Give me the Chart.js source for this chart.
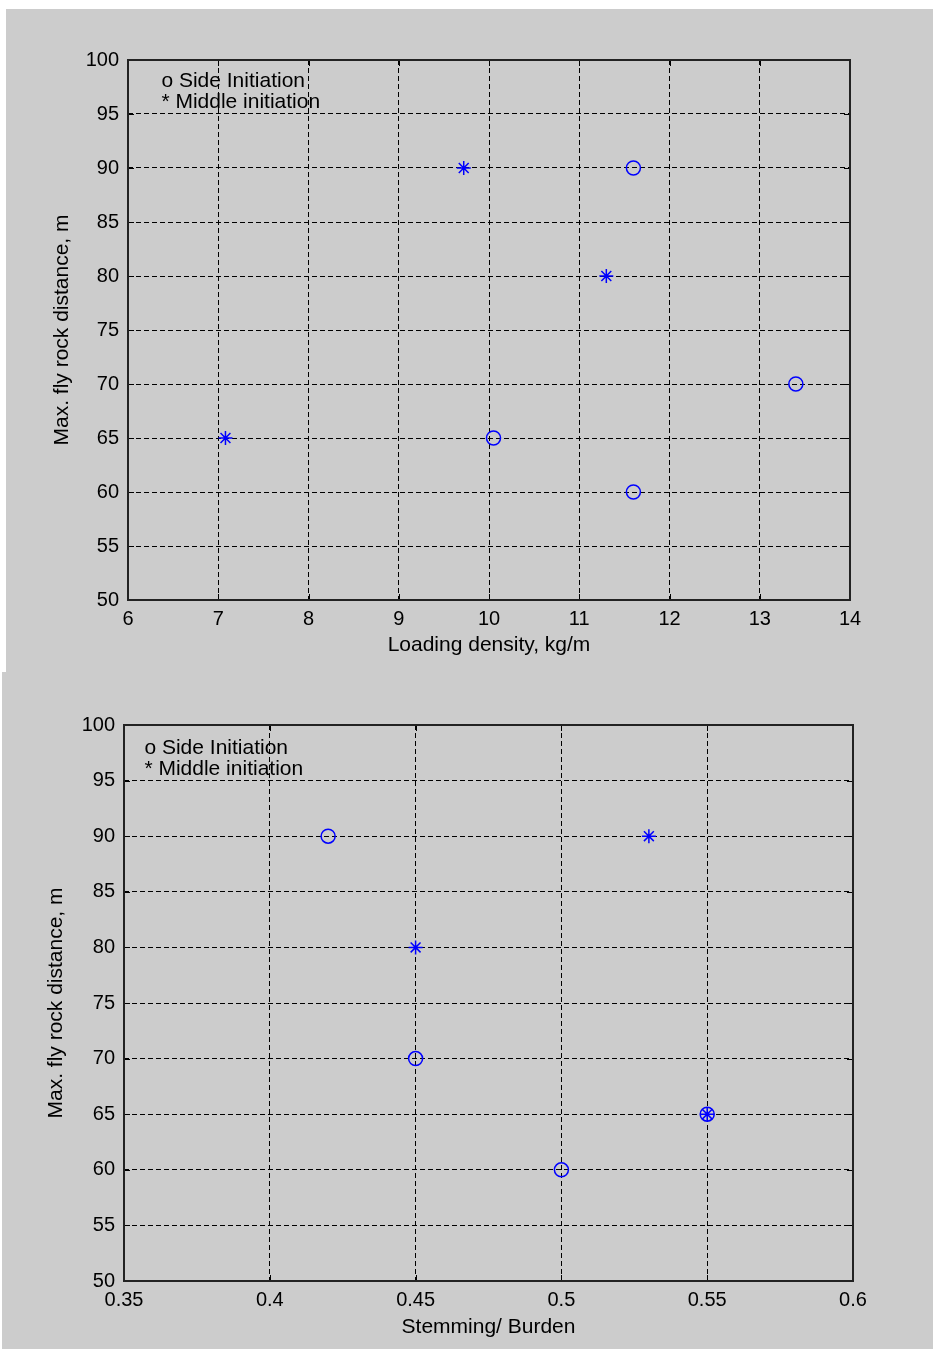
<!DOCTYPE html>
<html>
<head>
<meta charset="utf-8">
<script src="https://cdn.jsdelivr.net/npm/chart.js@4.4.1/dist/chart.umd.min.js"></script>
<style>
  html, body { margin: 0; padding: 0; background: #ffffff; }
  body { width: 933px; height: 1349px; position: relative; overflow: hidden; }
  .panel { position: absolute; background: #cccccc; }
  #p1 { left: 6px; top: 9px; width: 927px; height: 663px; }
  #p2 { left: 2px; top: 672px; width: 931px; height: 677px; }
</style>
</head>
<body>
<div class="panel" id="p1"><canvas id="densityChart" width="927" height="663"></canvas></div>
<div class="panel" id="p2"><canvas id="stemmingChart" width="931" height="677"></canvas></div>
<script>
// chart 1 - loading density
var densitySideX = [11.6, 13.4, 10.05, 11.6];
var densitySideY = [90, 70, 65, 60];
var densityMiddleX = [9.72, 11.3, 7.08];
var densityMiddleY = [90, 80, 65];
var densityTicksX = [6, 7, 8, 9, 10, 11, 12, 13, 14];

// chart 2 - stemming / burden
var stemSideX = [0.42, 0.45, 0.5, 0.55];
var stemSideY = [90, 70, 60, 65];
var stemMiddleX = [0.53, 0.45, 0.55];
var stemMiddleY = [90, 80, 65];
var stemTicksX = [0.35, 0.4, 0.45, 0.5, 0.55, 0.6];

var flyTicksY = [50, 55, 60, 65, 70, 75, 80, 85, 90, 95, 100];
var noteLines = ['o Side Initiation', '* Middle initiation'];

var tickFont = { family: "'Liberation Sans', Arial, sans-serif", size: 20 };
var titleFont = { family: "'Liberation Sans', Arial, sans-serif", size: 21 };

function toPoints(xs, ys) {
	var pts = [];
	for (var i = 0; i < xs.length; i++) {
		pts.push({ x: xs[i], y: ys[i] });
	}
	return pts;
}

// box, inward ticks on all 4 sides and the text note (matlab style)
var boxPlugin = {
	id: 'box',
	afterDraw: function(chart) {
		var c = chart.ctx;
		var a = chart.chartArea;
		var xs = chart.scales.x, ys = chart.scales.y;
		var opts = chart.options.plugins.box;
		c.save();
		c.strokeStyle = '#000';
		c.lineWidth = 1;
		c.setLineDash([]);
		c.beginPath();
		xs.ticks.forEach(function(t) {
			var px = Math.round(xs.getPixelForValue(t.value)) + 0.5;
			c.moveTo(px, a.bottom); c.lineTo(px, a.bottom - 6);
			c.moveTo(px, a.top); c.lineTo(px, a.top + 6);
		});
		ys.ticks.forEach(function(t) {
			var py = Math.round(ys.getPixelForValue(t.value)) + 0.5;
			c.moveTo(a.left, py); c.lineTo(a.left + 6, py);
			c.moveTo(a.right, py); c.lineTo(a.right - 6, py);
		});
		c.stroke();
		c.strokeStyle = '#222';
		c.lineWidth = 2;
		c.strokeRect(a.left, a.top, a.right - a.left, a.bottom - a.top);

		c.fillStyle = '#000';
		c.font = "21px 'Liberation Sans', Arial, sans-serif";
		c.textBaseline = 'alphabetic';
		for (var i = 0; i < noteLines.length; i++) {
			c.fillText(noteLines[i], xs.getPixelForValue(opts.noteX), ys.getPixelForValue(opts.noteY[i]));
		}
		c.restore();
	}
};

function makeChart(id, sideX, sideY, midX, midY, xTicks, xTitle, cfg) {
	var ctx = document.getElementById(id).getContext('2d');

	var data = {
		datasets: [
			{
				label: 'Side Initiation',
				data: toPoints(sideX, sideY),
				pointStyle: 'circle',
				radius: 7,
				borderColor: '#0000ff',
				backgroundColor: 'rgba(0,0,0,0)',
				borderWidth: 1.5,
				showLine: false
			},
			{
				label: 'Middle initiation',
				data: toPoints(midX, midY),
				pointStyle: 'star',
				radius: 7,
				borderColor: '#0000ff',
				backgroundColor: '#0000ff',
				borderWidth: 1.5,
				showLine: false
			}
		]
	};

	var options = {
		responsive: false,
		animation: false,
		events: [],
		layout: { padding: { top: cfg.padTop, right: cfg.padRight, left: 0, bottom: 0 } },
		plugins: {
			legend: { display: false },
			tooltip: { enabled: false },
			box: { noteX: cfg.noteX, noteY: cfg.noteY }
		},
		scales: {
			x: {
				type: 'linear',
				position: 'bottom',
				min: xTicks[0],
				max: xTicks[xTicks.length - 1],
				afterBuildTicks: function(scale) {
					scale.ticks = xTicks.map(function(v) { return { value: v }; });
				},
				afterFit: function(scale) { scale.height = cfg.xHeight; },
				ticks: {
					color: '#000',
					font: tickFont,
					padding: 7,
					maxRotation: 0,
					autoSkip: false,
					callback: function(v) { return String(parseFloat(v.toFixed(2))); }
				},
				grid: { color: '#000', lineWidth: 1, drawTicks: false },
				border: { display: false, dash: [5, 3] },
				title: { display: true, text: xTitle, color: '#000', font: titleFont, padding: { top: 0, bottom: cfg.xTitlePad } }
			},
			y: {
				type: 'linear',
				min: 50,
				max: 100,
				afterBuildTicks: function(scale) {
					scale.ticks = flyTicksY.map(function(v) { return { value: v }; });
				},
				afterFit: function(scale) { scale.width = cfg.yWidth; },
				ticks: { color: '#000', font: tickFont, padding: 9, autoSkip: false },
				grid: { color: '#000', lineWidth: 1, drawTicks: false },
				border: { display: false, dash: [5, 3] },
				title: { display: true, text: 'Max. fly rock distance, m', color: '#000', font: titleFont, padding: { top: cfg.yTitlePad, bottom: 0 } }
			}
		}
	};

	return new Chart(ctx, { type: 'scatter', data: data, options: options, plugins: [boxPlugin] });
}

makeChart('densityChart', densitySideX, densitySideY, densityMiddleX, densityMiddleY, densityTicksX,
	'Loading density, kg/m',
	{ padTop: 51, padRight: 83, xHeight: 72, yWidth: 122, xTitlePad: 14, yTitlePad: 44, noteX: 6.37, noteY: [97.5, 95.55] });

makeChart('stemmingChart', stemSideX, stemSideY, stemMiddleX, stemMiddleY, stemTicksX,
	'Stemming/ Burden',
	{ padTop: 53, padRight: 80, xHeight: 68, yWidth: 122, xTitlePad: 9, yTitlePad: 42, noteX: 0.357, noteY: [97.4, 95.5] });
</script>
</body>
</html>
